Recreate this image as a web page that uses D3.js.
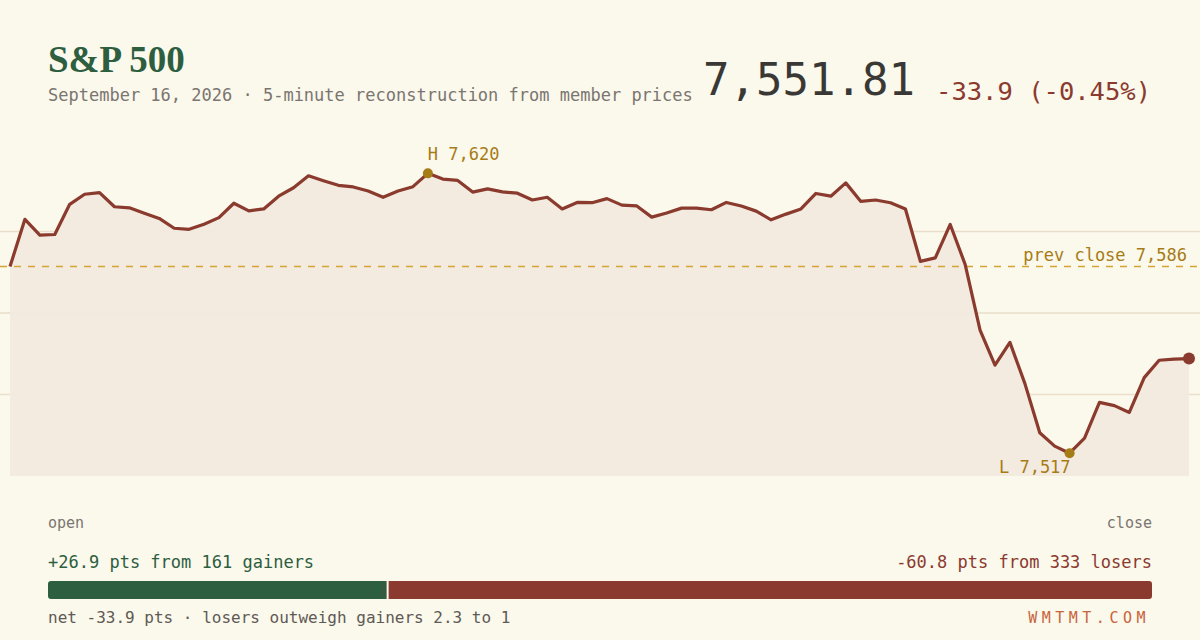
<!DOCTYPE html>
<html>
  <body style="margin:0;background:#fbf8ec;">
    <style>
      svg { display: block; }
      .mono { font-family: "DejaVu Sans Mono", "Liberation Mono", monospace; }
    </style>
    <script src="https://cdn.jsdelivr.net/npm/d3@7"></script>
    <script type="text/javascript">
      const width = 1200;
      const height = 640;

      // 5-minute index levels, open to close
      const levels = [
        7585.7, 7603.1, 7597.3, 7597.5, 7608.6, 7612.3, 7612.9, 7607.7, 7607.3, 7605.3,
        7603.4, 7599.8, 7599.4, 7601.3, 7603.7, 7609.0, 7606.2, 7606.9, 7611.6, 7614.7,
        7619.1, 7617.3, 7615.6, 7615.0, 7613.5, 7611.2, 7613.5, 7615.1, 7620.0, 7617.9,
        7617.4, 7613.1, 7614.3, 7613.2, 7612.7, 7610.2, 7611.2, 7606.9, 7609.3, 7609.2,
        7610.7, 7608.3, 7608.0, 7603.9, 7605.4, 7607.2, 7607.2, 7606.6, 7609.3, 7608.0,
        7606.1, 7602.9, 7605.0, 7606.9, 7612.6, 7611.6, 7616.5, 7609.7, 7610.2, 7609.2,
        7606.9, 7587.6, 7588.9, 7601.2, 7586.5, 7562.3, 7549.4, 7557.8, 7542.7, 7524.5,
        7519.6, 7517.0, 7522.5, 7535.7, 7534.5, 7532.0, 7544.8, 7551.2, 7551.6, 7551.81
      ];
      const prevClose = 7585.71;
      const yDomain = [7508.6, 7628.6];

      const gainers = [161, 26.9];   // count, points
      const losers = [333, -60.8];

      const colors = {
        bg: '#fbf8ec',
        line: '#8b3a2e',
        area: '#f2eadf',
        grid: '#e9dfca',
        gold: '#a67c16',
        dash: '#d4a534',
        green: '#2d5e40',
        red: '#8b3a2f',
        grey: '#7a7570',
        dark: '#3a3835',
        brand: '#c8643c'
      };

      // plain hyphen for negatives, as in the original
      const loc = d3.formatLocale({ decimal: '.', thousands: ',', grouping: [3], currency: ['$', ''], minus: '-' });
      const fmt = (s) => loc.format(s);

      const svg = d3.select('body')
        .append('svg')
        .attr('width', width)
        .attr('height', height)
        .style('background', colors.bg);

      const xScale = d3.scaleLinear()
        .domain([0, levels.length - 1])
        .range([10, 1189]);

      const yScale = d3.scaleLinear()
        .domain(yDomain)
        .range([476, 150]);

      // gridlines at quarters of the range
      const gridVals = [1, 2, 3].map((k) => yDomain[0] + (yDomain[1] - yDomain[0]) * k / 4);
      svg.append('g')
        .selectAll('line')
        .data(gridVals)
        .enter()
        .append('line')
        .attr('x1', 0)
        .attr('x2', width)
        .attr('y1', (d) => yScale(d))
        .attr('y2', (d) => yScale(d))
        .attr('stroke', colors.grid)
        .attr('stroke-width', 1.5);

      const area = d3.area()
        .x((d, i) => xScale(i))
        .y0(yScale(yDomain[0]))
        .y1((d) => yScale(d));

      const line = d3.line()
        .x((d, i) => xScale(i))
        .y((d) => yScale(d));

      svg.append('path')
        .datum(levels)
        .attr('d', area)
        .attr('fill', colors.area)
        .attr('fill-opacity', 0.95);

      // previous close
      svg.append('line')
        .attr('x1', 0)
        .attr('x2', width)
        .attr('y1', yScale(prevClose))
        .attr('y2', yScale(prevClose))
        .attr('stroke', colors.dash)
        .attr('stroke-width', 1.5)
        .attr('stroke-dasharray', '7,7');

      svg.append('text')
        .attr('class', 'mono')
        .attr('x', 1187)
        .attr('y', yScale(prevClose) - 6)
        .attr('text-anchor', 'end')
        .attr('font-size', 17)
        .attr('fill', colors.gold)
        .text('prev close ' + fmt(',.0f')(prevClose));

      svg.append('path')
        .datum(levels)
        .attr('d', line)
        .attr('fill', 'none')
        .attr('stroke', colors.line)
        .attr('stroke-width', 3.2)
        .attr('stroke-linejoin', 'round');

      // high / low markers
      const hi = d3.maxIndex(levels);
      const lo = d3.minIndex(levels);
      const last = levels.length - 1;

      svg.append('circle')
        .attr('cx', xScale(hi))
        .attr('cy', yScale(levels[hi]))
        .attr('r', 5)
        .attr('fill', colors.gold);

      svg.append('text')
        .attr('class', 'mono')
        .attr('x', xScale(hi))
        .attr('y', yScale(levels[hi]) - 13)
        .attr('font-size', 17)
        .attr('fill', colors.gold)
        .text('H ' + fmt(',.0f')(levels[hi]));

      svg.append('circle')
        .attr('cx', xScale(lo))
        .attr('cy', yScale(levels[lo]))
        .attr('r', 5)
        .attr('fill', colors.gold);

      svg.append('text')
        .attr('class', 'mono')
        .attr('x', xScale(lo) + 1)
        .attr('y', yScale(levels[lo]) + 20)
        .attr('text-anchor', 'end')
        .attr('font-size', 17)
        .attr('fill', colors.gold)
        .text('L ' + fmt(',.0f')(levels[lo]));

      svg.append('circle')
        .attr('cx', xScale(last))
        .attr('cy', yScale(levels[last]))
        .attr('r', 6)
        .attr('fill', colors.line);

      // header
      svg.append('text')
        .attr('x', 48)
        .attr('y', 72)
        .attr('font-family', '"Liberation Serif", "DejaVu Serif", serif')
        .attr('font-weight', 'bold')
        .attr('font-size', 37)
        .attr('fill', colors.green)
        .text('S&P 500');

      svg.append('text')
        .attr('class', 'mono')
        .attr('x', 48)
        .attr('y', 101)
        .attr('font-size', 17)
        .attr('fill', colors.grey)
        .text('September 16, 2026 · 5-minute reconstruction from member prices');

      const change = levels[last] - prevClose;
      svg.append('text')
        .attr('class', 'mono')
        .attr('x', 703)
        .attr('y', 95)
        .attr('font-size', 44)
        .attr('fill', colors.dark)
        .text(fmt(',.2f')(levels[last]));

      svg.append('text')
        .attr('class', 'mono')
        .attr('x', 1151)
        .attr('y', 100)
        .attr('text-anchor', 'end')
        .attr('font-size', 25.5)
        .attr('fill', colors.red)
        .text(fmt('.1f')(change) + ' (' + fmt('.2f')(change / prevClose * 100) + '%)');

      // open / close
      svg.append('text')
        .attr('class', 'mono')
        .attr('x', 48)
        .attr('y', 528)
        .attr('font-size', 15)
        .attr('fill', colors.grey)
        .text('open');

      svg.append('text')
        .attr('class', 'mono')
        .attr('x', 1152)
        .attr('y', 528)
        .attr('text-anchor', 'end')
        .attr('font-size', 15)
        .attr('fill', colors.grey)
        .text('close');

      // breadth bar
      svg.append('text')
        .attr('class', 'mono')
        .attr('x', 48)
        .attr('y', 568)
        .attr('font-size', 17)
        .attr('fill', colors.green)
        .text('+' + gainers[1].toFixed(1) + ' pts from ' + gainers[0] + ' gainers');

      svg.append('text')
        .attr('class', 'mono')
        .attr('x', 1152)
        .attr('y', 568)
        .attr('text-anchor', 'end')
        .attr('font-size', 17)
        .attr('fill', colors.red)
        .text(losers[1].toFixed(1) + ' pts from ' + losers[0] + ' losers');

      const barScale = d3.scaleLinear()
        .domain([0, gainers[1] + Math.abs(losers[1])])
        .range([48, 1152]);

      const split = barScale(gainers[1]);
      svg.append('rect')
        .attr('x', 48)
        .attr('y', 581)
        .attr('width', split - 48 + 4)
        .attr('height', 18)
        .attr('rx', 3)
        .attr('fill', colors.green);

      svg.append('rect')
        .attr('x', split - 4)
        .attr('y', 581)
        .attr('width', barScale.range()[1] - split + 4)
        .attr('height', 18)
        .attr('rx', 3)
        .attr('fill', colors.red);

      svg.append('rect')
        .attr('x', split - 4)
        .attr('y', 581)
        .attr('width', 4)
        .attr('height', 18)
        .attr('fill', colors.green);

      svg.append('line')
        .attr('x1', split + 1)
        .attr('x2', split + 1)
        .attr('y1', 581)
        .attr('y2', 599)
        .attr('stroke', colors.bg)
        .attr('stroke-width', 2);

      svg.append('text')
        .attr('class', 'mono')
        .attr('x', 48)
        .attr('y', 623)
        .attr('font-size', 16)
        .attr('fill', '#5e5a55')
        .text('net ' + fmt('.1f')(change) + ' pts · losers outweigh gainers ' +
          (Math.abs(losers[1]) / gainers[1]).toFixed(1) + ' to 1');

      svg.append('text')
        .attr('class', 'mono')
        .attr('x', 1150)
        .attr('y', 623)
        .attr('text-anchor', 'end')
        .attr('font-size', 15)
        .attr('letter-spacing', 4.5)
        .attr('fill', colors.brand)
        .text('WMTMT.COM');
    </script>
  </body>
</html>
